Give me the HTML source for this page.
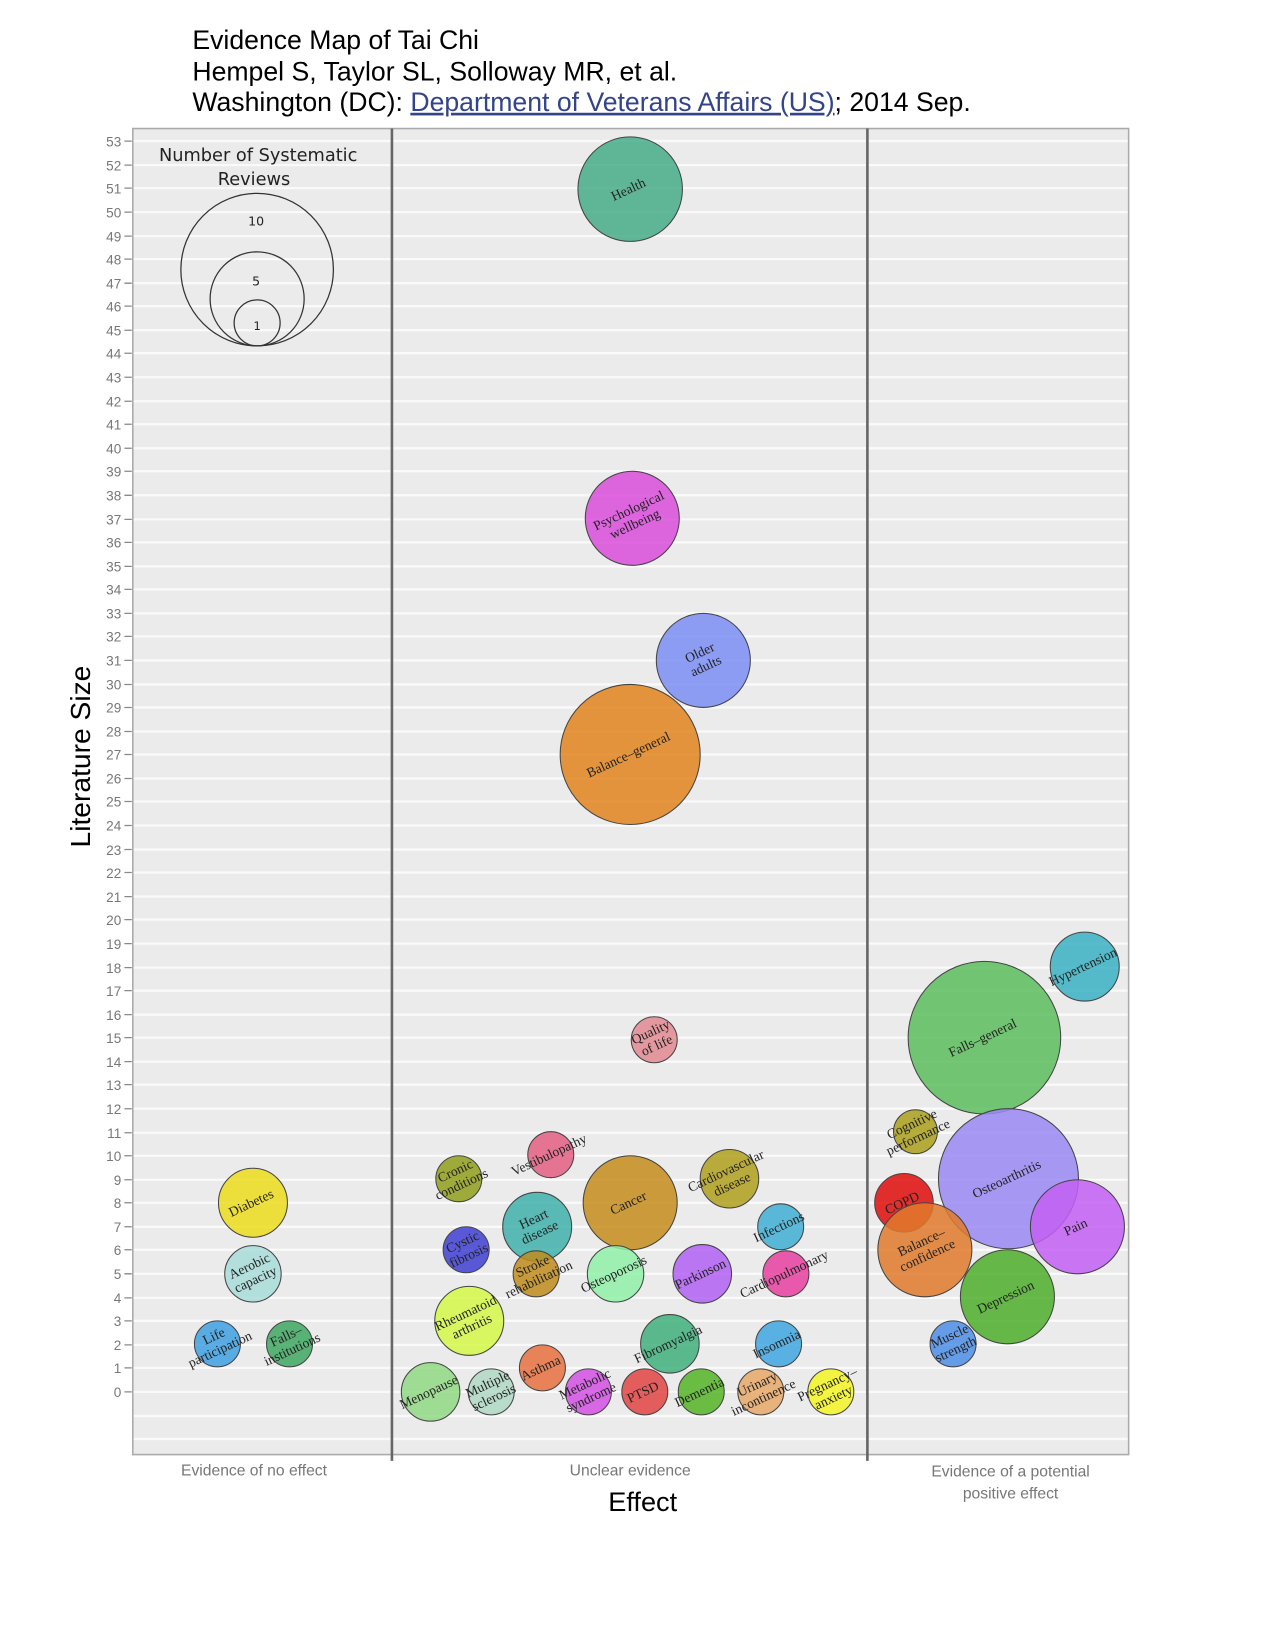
<!DOCTYPE html>
<html><head><meta charset="utf-8"><style>html,body{margin:0;padding:0;background:#fff}svg{display:block}</style></head>
<body>
<svg width="1275" height="1650" viewBox="0 0 1220 1579" xmlns="http://www.w3.org/2000/svg">
<rect width="1220" height="1579" fill="#fff"/>
<g font-family="Liberation Sans, sans-serif" font-size="25.5" fill="#000">
<text x="184" y="47">Evidence Map of Tai Chi</text>
<text x="184" y="77">Hempel S, Taylor SL, Solloway MR, et al.</text>
<text x="184" y="106">Washington (DC): <tspan fill="#33448a" text-decoration="underline">Department of Veterans Affairs (US)</tspan>; 2014 Sep.</text>
</g>
<rect x="127" y="123" width="953" height="1269" fill="#ebebeb" stroke="#aaa" stroke-width="1.5"/>
<g stroke="#fafafa" stroke-width="2.2">
<line x1="128" x2="1079" y1="135" y2="135"/><line x1="128" x2="1079" y1="158" y2="158"/><line x1="128" x2="1079" y1="180" y2="180"/><line x1="128" x2="1079" y1="203" y2="203"/><line x1="128" x2="1079" y1="226" y2="226"/><line x1="128" x2="1079" y1="248" y2="248"/><line x1="128" x2="1079" y1="271" y2="271"/><line x1="128" x2="1079" y1="293" y2="293"/><line x1="128" x2="1079" y1="316" y2="316"/><line x1="128" x2="1079" y1="338" y2="338"/><line x1="128" x2="1079" y1="361" y2="361"/><line x1="128" x2="1079" y1="384" y2="384"/><line x1="128" x2="1079" y1="406" y2="406"/><line x1="128" x2="1079" y1="429" y2="429"/><line x1="128" x2="1079" y1="451" y2="451"/><line x1="128" x2="1079" y1="474" y2="474"/><line x1="128" x2="1079" y1="497" y2="497"/><line x1="128" x2="1079" y1="519" y2="519"/><line x1="128" x2="1079" y1="542" y2="542"/><line x1="128" x2="1079" y1="564" y2="564"/><line x1="128" x2="1079" y1="587" y2="587"/><line x1="128" x2="1079" y1="609" y2="609"/><line x1="128" x2="1079" y1="632" y2="632"/><line x1="128" x2="1079" y1="655" y2="655"/><line x1="128" x2="1079" y1="677" y2="677"/><line x1="128" x2="1079" y1="700" y2="700"/><line x1="128" x2="1079" y1="722" y2="722"/><line x1="128" x2="1079" y1="745" y2="745"/><line x1="128" x2="1079" y1="767" y2="767"/><line x1="128" x2="1079" y1="790" y2="790"/><line x1="128" x2="1079" y1="813" y2="813"/><line x1="128" x2="1079" y1="835" y2="835"/><line x1="128" x2="1079" y1="858" y2="858"/><line x1="128" x2="1079" y1="880" y2="880"/><line x1="128" x2="1079" y1="903" y2="903"/><line x1="128" x2="1079" y1="926" y2="926"/><line x1="128" x2="1079" y1="948" y2="948"/><line x1="128" x2="1079" y1="971" y2="971"/><line x1="128" x2="1079" y1="993" y2="993"/><line x1="128" x2="1079" y1="1016" y2="1016"/><line x1="128" x2="1079" y1="1038" y2="1038"/><line x1="128" x2="1079" y1="1061" y2="1061"/><line x1="128" x2="1079" y1="1084" y2="1084"/><line x1="128" x2="1079" y1="1106" y2="1106"/><line x1="128" x2="1079" y1="1129" y2="1129"/><line x1="128" x2="1079" y1="1151" y2="1151"/><line x1="128" x2="1079" y1="1174" y2="1174"/><line x1="128" x2="1079" y1="1196" y2="1196"/><line x1="128" x2="1079" y1="1219" y2="1219"/><line x1="128" x2="1079" y1="1242" y2="1242"/><line x1="128" x2="1079" y1="1264" y2="1264"/><line x1="128" x2="1079" y1="1287" y2="1287"/><line x1="128" x2="1079" y1="1309" y2="1309"/><line x1="128" x2="1079" y1="1332" y2="1332"/><line x1="128" x2="1079" y1="1355" y2="1355"/><line x1="128" x2="1079" y1="1377" y2="1377"/>
</g>
<g stroke="#888" stroke-width="1.2">
<path d="M119 135h7M119 158h7M119 180h7M119 203h7M119 226h7M119 248h7M119 271h7M119 293h7M119 316h7M119 338h7M119 361h7M119 384h7M119 406h7M119 429h7M119 451h7M119 474h7M119 497h7M119 519h7M119 542h7M119 564h7M119 587h7M119 609h7M119 632h7M119 655h7M119 677h7M119 700h7M119 722h7M119 745h7M119 767h7M119 790h7M119 813h7M119 835h7M119 858h7M119 880h7M119 903h7M119 926h7M119 948h7M119 971h7M119 993h7M119 1016h7M119 1038h7M119 1061h7M119 1084h7M119 1106h7M119 1129h7M119 1151h7M119 1174h7M119 1196h7M119 1219h7M119 1242h7M119 1264h7M119 1287h7M119 1309h7M119 1332h7"/>
</g>
<g font-family="Liberation Sans, sans-serif" font-size="13" fill="#777" text-anchor="end">
<text x="116" y="140">53</text><text x="116" y="163">52</text><text x="116" y="185">51</text><text x="116" y="208">50</text><text x="116" y="231">49</text><text x="116" y="253">48</text><text x="116" y="276">47</text><text x="116" y="298">46</text><text x="116" y="321">45</text><text x="116" y="343">44</text><text x="116" y="366">43</text><text x="116" y="389">42</text><text x="116" y="411">41</text><text x="116" y="434">40</text><text x="116" y="456">39</text><text x="116" y="479">38</text><text x="116" y="502">37</text><text x="116" y="524">36</text><text x="116" y="547">35</text><text x="116" y="569">34</text><text x="116" y="592">33</text><text x="116" y="614">32</text><text x="116" y="637">31</text><text x="116" y="660">30</text><text x="116" y="682">29</text><text x="116" y="705">28</text><text x="116" y="727">27</text><text x="116" y="750">26</text><text x="116" y="772">25</text><text x="116" y="795">24</text><text x="116" y="818">23</text><text x="116" y="840">22</text><text x="116" y="863">21</text><text x="116" y="885">20</text><text x="116" y="908">19</text><text x="116" y="931">18</text><text x="116" y="953">17</text><text x="116" y="976">16</text><text x="116" y="998">15</text><text x="116" y="1021">14</text><text x="116" y="1043">13</text><text x="116" y="1066">12</text><text x="116" y="1089">11</text><text x="116" y="1111">10</text><text x="116" y="1134">9</text><text x="116" y="1156">8</text><text x="116" y="1179">7</text><text x="116" y="1201">6</text><text x="116" y="1224">5</text><text x="116" y="1247">4</text><text x="116" y="1269">3</text><text x="116" y="1292">2</text><text x="116" y="1314">1</text><text x="116" y="1337">0</text>
</g>
<line x1="375" y1="123" x2="375" y2="1398" stroke="#666" stroke-width="2.5"/>
<line x1="830" y1="123" x2="830" y2="1398" stroke="#666" stroke-width="2.5"/>
<text transform="translate(86,724) rotate(-90)" text-anchor="middle" font-family="Liberation Sans, sans-serif" font-size="27">Literature Size</text>
<g font-family="Liberation Sans, sans-serif" font-size="15" fill="#777" text-anchor="middle">
<text x="243" y="1412">Evidence of no effect</text>
<text x="603" y="1412">Unclear evidence</text>
<text x="967" y="1413">Evidence of a potential</text>
<text x="967" y="1434">positive effect</text>
</g>
<text x="615" y="1446" text-anchor="middle" font-family="Liberation Sans, sans-serif" font-size="26">Effect</text>
<g font-family="DejaVu Sans, sans-serif" fill="#222" text-anchor="middle">
<text x="247" y="154" font-size="17">Number of Systematic</text>
<text x="243" y="177" font-size="17">Reviews</text>
<g fill="none" stroke="#333" stroke-width="1.2">
<circle cx="246" cy="258" r="73"/><circle cx="246" cy="286" r="45"/><circle cx="246" cy="309" r="22"/>
</g>
<text x="245" y="216" font-size="12">10</text><text x="245" y="273" font-size="12">5</text><text x="246" y="316" font-size="11">1</text>
</g>
<g stroke="#444" stroke-width="1" fill-opacity="0.85">
<circle cx="603" cy="181" r="50" fill="#45ad88"/>
<circle cx="605" cy="496" r="45" fill="#d94cdb"/>
<circle cx="673" cy="632" r="45" fill="#7b8ef3"/>
<circle cx="603" cy="722" r="67" fill="#e0841c"/>
<circle cx="626" cy="995" r="22" fill="#e08a90"/>
<circle cx="1038" cy="925" r="33" fill="#3ab0c2"/>
<circle cx="942" cy="993" r="73" fill="#5cbd5c"/>
<circle cx="876" cy="1083" r="21" fill="#aaa01c"/>
<circle cx="965" cy="1128" r="67" fill="#9a8af3"/>
<circle cx="865" cy="1151" r="28" fill="#e00c0c"/>
<circle cx="1031" cy="1174" r="45" fill="#c35ff3"/>
<circle cx="885" cy="1196" r="45" fill="#e07a2c"/>
<circle cx="964" cy="1241" r="45" fill="#4eae2c"/>
<circle cx="912" cy="1286" r="22" fill="#4e8ee6"/>
<circle cx="242" cy="1151" r="33" fill="#ecdc1c"/>
<circle cx="242" cy="1219" r="27" fill="#a8dcd8"/>
<circle cx="208" cy="1286" r="22" fill="#40a0e2"/>
<circle cx="277" cy="1286" r="22" fill="#40a860"/>
<circle cx="439" cy="1128" r="22" fill="#90a01c"/>
<circle cx="527" cy="1105" r="22" fill="#e45e82"/>
<circle cx="603" cy="1151" r="45" fill="#c48c1c"/>
<circle cx="698" cy="1128" r="28" fill="#b0a01c"/>
<circle cx="514" cy="1174" r="33" fill="#40b0aa"/>
<circle cx="747" cy="1174" r="22" fill="#40aed4"/>
<circle cx="446" cy="1196" r="22" fill="#4040d4"/>
<circle cx="513" cy="1219" r="22" fill="#c08c1c"/>
<circle cx="589" cy="1219" r="27" fill="#90f0a8"/>
<circle cx="672" cy="1219" r="28" fill="#b060f3"/>
<circle cx="752" cy="1219" r="22" fill="#e840a0"/>
<circle cx="449" cy="1264" r="33" fill="#d4f848"/>
<circle cx="641" cy="1286" r="28" fill="#40b07c"/>
<circle cx="745" cy="1286" r="22" fill="#40a6e0"/>
<circle cx="412" cy="1332" r="28" fill="#90d884"/>
<circle cx="470" cy="1332" r="22" fill="#b0d8c4"/>
<circle cx="519" cy="1309" r="22" fill="#e67040"/>
<circle cx="563" cy="1332" r="22" fill="#d450e4"/>
<circle cx="617" cy="1332" r="22" fill="#e24444"/>
<circle cx="671" cy="1332" r="22" fill="#54b424"/>
<circle cx="728" cy="1332" r="22" fill="#e8a868"/>
<circle cx="795" cy="1332" r="22" fill="#f4f424"/>
</g>
<g font-family="Liberation Serif, serif" font-size="13" fill="#222" text-anchor="middle">
<text transform="translate(603,185) rotate(-25)">Health</text>
<text transform="translate(605,496) rotate(-25)"><tspan x="0" y="-4">Psychological</tspan><tspan x="0" y="10">wellbeing</tspan></text>
<text transform="translate(673,632) rotate(-25)"><tspan x="0" y="-4">Older</tspan><tspan x="0" y="10">adults</tspan></text>
<text transform="translate(603,726) rotate(-25)">Balance–general</text>
<text transform="translate(626,995) rotate(-25)"><tspan x="0" y="-4">Quality</tspan><tspan x="0" y="10">of life</tspan></text>
<text transform="translate(1038,929) rotate(-25)">Hypertension</text>
<text transform="translate(942,997) rotate(-25)">Falls–general</text>
<text transform="translate(876,1083) rotate(-25)"><tspan x="0" y="-4">Cognitive</tspan><tspan x="0" y="10">performance</tspan></text>
<text transform="translate(965,1132) rotate(-25)">Osteoarthritis</text>
<text transform="translate(865,1155) rotate(-25)">COPD</text>
<text transform="translate(1031,1178) rotate(-25)">Pain</text>
<text transform="translate(885,1196) rotate(-25)"><tspan x="0" y="-4">Balance–</tspan><tspan x="0" y="10">confidence</tspan></text>
<text transform="translate(964,1245) rotate(-25)">Depression</text>
<text transform="translate(912,1286) rotate(-25)"><tspan x="0" y="-4">Muscle</tspan><tspan x="0" y="10">strength</tspan></text>
<text transform="translate(242,1155) rotate(-25)">Diabetes</text>
<text transform="translate(242,1219) rotate(-25)"><tspan x="0" y="-4">Aerobic</tspan><tspan x="0" y="10">capacity</tspan></text>
<text transform="translate(208,1286) rotate(-25)"><tspan x="0" y="-4">Life</tspan><tspan x="0" y="10">participation</tspan></text>
<text transform="translate(277,1286) rotate(-25)"><tspan x="0" y="-4">Falls–</tspan><tspan x="0" y="10">institutions</tspan></text>
<text transform="translate(439,1128) rotate(-25)"><tspan x="0" y="-4">Cronic</tspan><tspan x="0" y="10">conditions</tspan></text>
<text transform="translate(527,1109) rotate(-25)">Vestibulopathy</text>
<text transform="translate(603,1155) rotate(-25)">Cancer</text>
<text transform="translate(698,1128) rotate(-25)"><tspan x="0" y="-4">Cardiovascular</tspan><tspan x="0" y="10">disease</tspan></text>
<text transform="translate(514,1174) rotate(-25)"><tspan x="0" y="-4">Heart</tspan><tspan x="0" y="10">disease</tspan></text>
<text transform="translate(747,1178) rotate(-25)">Infections</text>
<text transform="translate(446,1196) rotate(-25)"><tspan x="0" y="-4">Cystic</tspan><tspan x="0" y="10">fibrosis</tspan></text>
<text transform="translate(513,1219) rotate(-25)"><tspan x="0" y="-4">Stroke</tspan><tspan x="0" y="10">rehabilitation</tspan></text>
<text transform="translate(589,1223) rotate(-25)">Osteoporosis</text>
<text transform="translate(672,1223) rotate(-25)">Parkinson</text>
<text transform="translate(752,1223) rotate(-25)">Cardiopulmonary</text>
<text transform="translate(449,1264) rotate(-25)"><tspan x="0" y="-4">Rheumatoid</tspan><tspan x="0" y="10">arthritis</tspan></text>
<text transform="translate(641,1290) rotate(-25)">Fibromyalgia</text>
<text transform="translate(745,1290) rotate(-25)">Insomnia</text>
<text transform="translate(412,1336) rotate(-25)">Menopause</text>
<text transform="translate(470,1332) rotate(-25)"><tspan x="0" y="-4">Multiple</tspan><tspan x="0" y="10">sclerosis</tspan></text>
<text transform="translate(519,1313) rotate(-25)">Asthma</text>
<text transform="translate(563,1332) rotate(-25)"><tspan x="0" y="-4">Metabolic</tspan><tspan x="0" y="10">syndrome</tspan></text>
<text transform="translate(617,1336) rotate(-25)">PTSD</text>
<text transform="translate(671,1336) rotate(-25)">Dementia</text>
<text transform="translate(728,1332) rotate(-25)"><tspan x="0" y="-4">Urinary</tspan><tspan x="0" y="10">incontinence</tspan></text>
<text transform="translate(795,1332) rotate(-25)"><tspan x="0" y="-4">Pregnancy–</tspan><tspan x="0" y="10">anxiety</tspan></text>
</g>
</svg>
</body></html>
